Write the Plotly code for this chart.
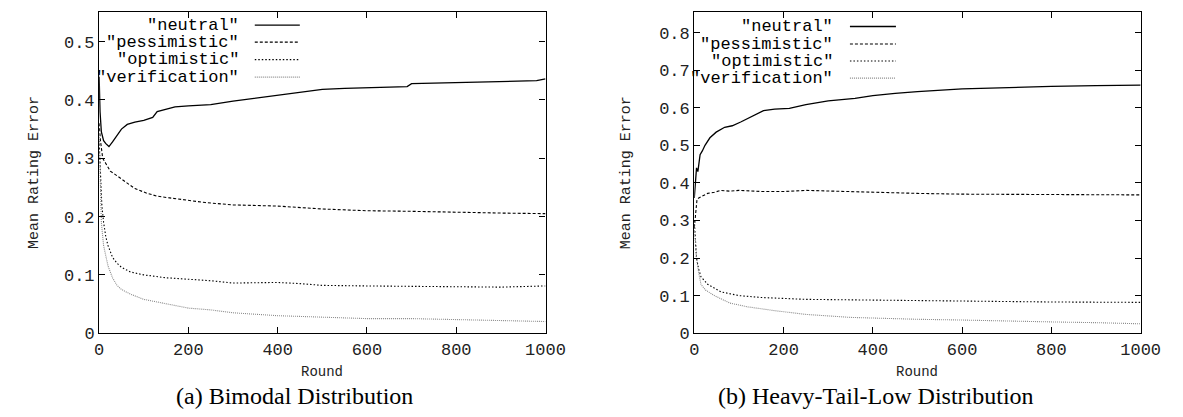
import plotly.graph_objects as go

W, H = 1183, 417

# ---------------- data: (a) Bimodal Distribution ----------------
a_neutral_x = [0, 2, 5, 10, 15, 22, 30, 40, 50, 63, 80, 100, 120, 130, 145, 170, 200, 250, 300, 350,
               400, 450, 500, 550, 600, 650, 690, 700, 800, 900, 980, 1000]
a_neutral_y = [0.44, 0.38, 0.345, 0.33, 0.325, 0.32, 0.328, 0.34, 0.35, 0.358, 0.362, 0.365, 0.37, 0.38,
               0.383, 0.388, 0.39, 0.392, 0.398, 0.403, 0.408, 0.413, 0.418, 0.420, 0.421, 0.422, 0.423,
               0.428, 0.430, 0.432, 0.433, 0.436]
a_pess_x = [0, 3, 8, 15, 25, 40, 63, 80, 107, 130, 158, 200, 238, 300, 400, 500, 600, 700, 800, 900, 1000]
a_pess_y = [0.36, 0.33, 0.30, 0.29, 0.278, 0.27, 0.257, 0.248, 0.24, 0.235, 0.232, 0.228, 0.224, 0.22,
            0.218, 0.213, 0.21, 0.209, 0.207, 0.206, 0.205]
a_opt_x = [0, 3, 6, 10, 15, 20, 30, 40, 50, 70, 100, 150, 200, 250, 300, 350, 400, 450, 500, 600, 700,
           800, 900, 1000]
a_opt_y = [0.33, 0.26, 0.22, 0.19, 0.165, 0.15, 0.13, 0.12, 0.113, 0.105, 0.1, 0.095, 0.093, 0.09, 0.086,
           0.086, 0.087, 0.085, 0.082, 0.081, 0.08, 0.08, 0.079, 0.081]
a_ver_x = [0, 2, 5, 10, 15, 20, 30, 40, 50, 70, 100, 150, 200, 250, 300, 400, 500, 600, 700, 800, 900, 1000]
a_ver_y = [0.34, 0.25, 0.19, 0.15, 0.13, 0.115, 0.095, 0.082, 0.075, 0.067, 0.058, 0.05, 0.043, 0.04,
           0.035, 0.03, 0.027, 0.025, 0.025, 0.023, 0.022, 0.02]

# ---------------- data: (b) Heavy-Tail-Low Distribution ----------------
b_neutral_x = [0, 2, 5, 8, 13, 18, 24, 35, 49, 68, 85, 104, 130, 155, 180, 213, 250, 300, 360, 400, 450,
               500, 600, 700, 800, 900, 1000]
b_neutral_y = [0.36, 0.40, 0.44, 0.43, 0.475, 0.485, 0.50, 0.52, 0.535, 0.548, 0.552, 0.562, 0.578, 0.592,
               0.596, 0.598, 0.608, 0.618, 0.625, 0.632, 0.638, 0.643, 0.65, 0.654, 0.657, 0.659, 0.66]
b_pess_x = [0, 3, 6, 10, 20, 30, 45, 60, 80, 100, 150, 200, 250, 300, 400, 500, 600, 700, 800, 900, 1000]
b_pess_y = [0.28, 0.33, 0.355, 0.36, 0.365, 0.372, 0.375, 0.38, 0.378, 0.38, 0.377, 0.377, 0.38, 0.378,
            0.376, 0.372, 0.37, 0.37, 0.369, 0.369, 0.368]
b_opt_x = [0, 2, 5, 10, 15, 30, 60, 100, 150, 250, 400, 600, 800, 1000]
b_opt_y = [0.30, 0.24, 0.20, 0.17, 0.15, 0.13, 0.11, 0.10, 0.095, 0.09, 0.088, 0.085, 0.083, 0.082]
b_ver_x = [0, 2, 5, 10, 15, 25, 45, 80, 120, 180, 250, 350, 400, 500, 600, 700, 800, 900, 1000]
b_ver_y = [0.28, 0.24, 0.20, 0.16, 0.13, 0.115, 0.10, 0.08, 0.07, 0.06, 0.05, 0.042, 0.04, 0.037, 0.035,
           0.032, 0.03, 0.028, 0.025]

series_names = ['"neutral"', '"pessimistic"', '"optimistic"', '"verification"']
x_ticks = [0, 200, 400, 600, 800, 1000]
a_y_ticks = [0, 0.1, 0.2, 0.3, 0.4, 0.5]
b_y_ticks = [0, 0.1, 0.2, 0.3, 0.4, 0.5, 0.6, 0.7, 0.8]
x_title = "Round"
y_title = "Mean Rating Error"
captions = ["(a) Bimodal Distribution", "(b) Heavy-Tail-Low Distribution"]

# ---------------- styles ----------------
styles = [
    dict(color="black", width=1.3, dash="solid"),
    dict(color="black", width=1.1, dash="3px,2px"),
    dict(color="black", width=1.1, dash="1.5px,2px"),
    dict(color="#8a8a8a", width=1.1, dash="1px,1px"),
]
MONO = "Liberation Mono, DejaVu Sans Mono, monospace"
SERIF = "Liberation Serif, DejaVu Serif, serif"


def px_x(p):
    return p / W


def px_y(p):
    return 1 - p / H


fig = go.Figure()

panel_a = [(a_neutral_x, a_neutral_y), (a_pess_x, a_pess_y), (a_opt_x, a_opt_y), (a_ver_x, a_ver_y)]
panel_b = [(b_neutral_x, b_neutral_y), (b_pess_x, b_pess_y), (b_opt_x, b_opt_y), (b_ver_x, b_ver_y)]

for i, (xs, ys) in enumerate(panel_a):
    fig.add_trace(go.Scatter(x=xs, y=ys, mode="lines", line=styles[i], name=series_names[i],
                             showlegend=False, xaxis="x", yaxis="y"))
for i, (xs, ys) in enumerate(panel_b):
    fig.add_trace(go.Scatter(x=xs, y=ys, mode="lines", line=styles[i], name=series_names[i],
                             showlegend=False, xaxis="x2", yaxis="y2"))

ax_common = dict(showgrid=False, zeroline=False, showline=True, linecolor="black", linewidth=1.3,
                 mirror="ticks", ticks="inside", ticklen=6, tickcolor="black", tickwidth=1,
                 tickfont=dict(family=MONO, size=17, color="#222"))

y_dom = [px_y(334), px_y(4)]
fig.update_layout(
    width=W, height=H, margin=dict(l=0, r=0, t=0, b=0),
    paper_bgcolor="white", plot_bgcolor="white",
    xaxis=dict(domain=[px_x(88), px_x(544)], range=[0, 1000], tickvals=x_ticks, anchor="y", **ax_common),
    yaxis=dict(domain=y_dom, range=[0, 0.551], tickvals=a_y_ticks, anchor="x", **ax_common),
    xaxis2=dict(domain=[px_x(696), px_x(1152)], range=[0, 1000], tickvals=x_ticks, anchor="y2", **ax_common),
    yaxis2=dict(domain=y_dom, range=[0, 0.855], tickvals=b_y_ticks, anchor="x2", **ax_common),
)

annotations = []
shapes = []

# legends (text right aligned, sample line to the right)
legend_cfg = [
    dict(text_right=233, line_x0=247, line_x1=293, rows=[17.5, 35, 53, 71]),
    dict(text_right=840, line_x0=855, line_x1=902, rows=[19, 37, 54.5, 72]),
]
for cfg in legend_cfg:
    for i, name in enumerate(series_names):
        yy = cfg["rows"][i]
        annotations.append(dict(text=name, x=px_x(cfg["text_right"]), y=px_y(yy), xref="paper", yref="paper",
                                xanchor="right", yanchor="middle", showarrow=False,
                                font=dict(family=MONO, size=17, color="black")))
        shapes.append(dict(type="line", xref="paper", yref="paper",
                           x0=px_x(cfg["line_x0"]), x1=px_x(cfg["line_x1"]), y0=px_y(yy), y1=px_y(yy),
                           line=styles[i]))

# axis titles
for xc in [316, 924]:
    annotations.append(dict(text=x_title, x=px_x(xc), y=px_y(374), xref="paper", yref="paper",
                            xanchor="center", yanchor="middle", showarrow=False,
                            font=dict(family=MONO, size=14, color="#222")))
for xc in [22, 627]:
    annotations.append(dict(text=y_title, x=px_x(xc), y=px_y(169), xref="paper", yref="paper",
                            xanchor="center", yanchor="middle", showarrow=False, textangle=-90,
                            font=dict(family=MONO, size=15, color="#222")))
# captions
for xc, cap in zip([288, 882], captions):
    annotations.append(dict(text=cap, x=px_x(xc), y=px_y(399), xref="paper", yref="paper",
                            xanchor="center", yanchor="middle", showarrow=False,
                            font=dict(family=SERIF, size=24, color="black")))

fig.update_layout(annotations=annotations, shapes=shapes)
fig.write_html("out.html")
